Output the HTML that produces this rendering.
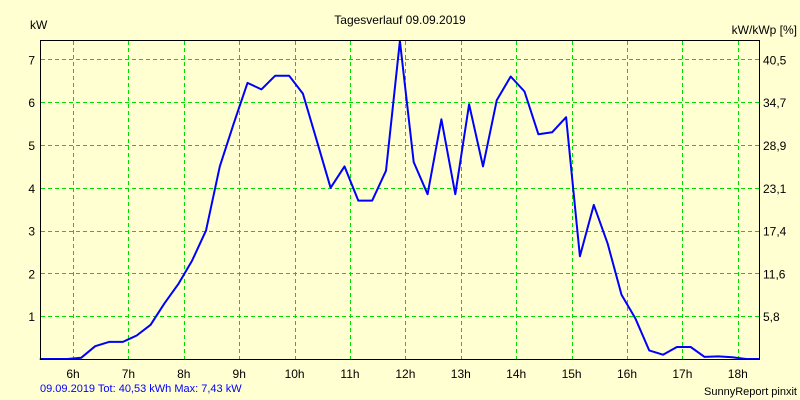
<!DOCTYPE html>
<html><head><meta charset="utf-8"><style>
html,body{margin:0;padding:0;background:#ffffd2;}
svg{display:block;font-family:"Liberation Sans",sans-serif;font-size:12px;}
</style></head><body>
<svg id="chart" width="800" height="400">
<rect x="0" y="0" width="800" height="400" fill="#ffffd2"/>
<g id="grid"></g>
<g id="axes"></g>
<path id="line" fill="none" stroke="#0000ff" stroke-width="2" stroke-linejoin="round"/>
<rect x="40.5" y="40.5" width="719" height="319" fill="none" stroke="#000" stroke-width="1"/>
<text x="400" y="24" text-anchor="middle">Tagesverlauf 09.09.2019</text>
<text x="30" y="29">kW</text>
<text x="797" y="34" text-anchor="end">kW/kWp [%]</text>
<text x="40" y="392" fill="#0000ff" font-size="11">09.09.2019 Tot: 40,53 kWh Max: 7,43 kW</text>
<text x="797" y="395" text-anchor="end" font-size="11">SunnyReport pinxit</text>
</svg>
<script>
const times=[5.4,5.9,6.15,6.4,6.65,6.9,7.15,7.4,7.65,7.9,8.15,8.4,8.65,8.9,9.15,9.4,9.65,9.9,10.15,10.4,10.65,10.9,11.15,11.4,11.65,11.9,12.15,12.4,12.65,12.9,13.15,13.4,13.65,13.9,14.15,14.4,14.65,14.9,15.15,15.4,15.65,15.9,16.15,16.4,16.65,16.9,17.15,17.4,17.65,17.9,18.15,18.4];
const power=[0,0,0.03,0.3,0.4,0.4,0.55,0.8,1.3,1.75,2.3,3.0,4.5,5.5,6.45,6.3,6.62,6.62,6.2,5.1,4.0,4.5,3.7,3.7,4.4,7.43,4.6,3.85,5.6,3.85,5.95,4.5,6.05,6.6,6.25,5.25,5.3,5.65,2.4,3.6,2.7,1.5,0.95,0.2,0.1,0.28,0.28,0.05,0.06,0.04,0,0];
const hourTicks=[6,7,8,9,10,11,12,13,14,15,16,17,18];
const leftTicks=[1,2,3,4,5,6,7];
const rightLabels=["5,8","11,6","17,4","23,1","28,9","34,7","40,5"];
const NS="http://www.w3.org/2000/svg";
const X=h=>73+(h-6)*55.4;
const Y=v=>359-v*42.8;
const grid=document.getElementById('grid'), axes=document.getElementById('axes');
function mk(tag,attrs,parent){const e=document.createElementNS(NS,tag);for(const k in attrs)e.setAttribute(k,attrs[k]);parent.appendChild(e);return e;}
hourTicks.forEach(h=>{
  const x=Math.round(X(h))+0.5;
  const l=mk('line',{x1:x,x2:x,y1:41,y2:359,stroke:'#00dd00','stroke-dasharray':'4,3'},grid);
  
  
  const t=mk('text',{x:X(h),y:378,'text-anchor':'middle'},axes);
  t.textContent=h+'h';
  
  
});
leftTicks.forEach((v,i)=>{
  const y=Math.round(Y(v))+0.5;
  const l=mk('line',{x1:41,x2:759,y1:y,y2:y,stroke:'#00dd00','stroke-dasharray':'4,3'},grid);
  
  
  const t=mk('text',{x:35,y:Y(v)+5,'text-anchor':'end'},axes);
  t.textContent=v;
  
  
  const r=mk('text',{x:763,y:Y(v)+5},axes);
  r.textContent=rightLabels[i];
  
  
});
document.getElementById('line').setAttribute('d',times.map((t,i)=>(i?'L':'M')+X(t).toFixed(1)+','+Y(power[i]).toFixed(1)).join(' '));
</script>
</body></html>
